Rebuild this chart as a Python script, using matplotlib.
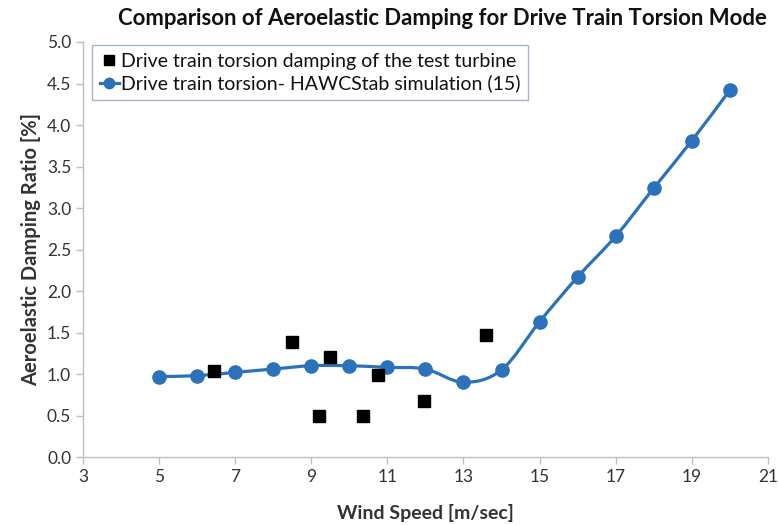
import matplotlib
matplotlib.use("Agg")
import matplotlib.pyplot as plt
from matplotlib.path import Path
from matplotlib.patches import PathPatch
from matplotlib.lines import Line2D
import numpy as np

plt.rcParams['font.family'] = ['Lato', 'DejaVu Sans']

# measured damping of the test turbine
meas_wind = [6.45, 8.5, 9.2, 9.5, 10.35, 10.75, 11.95, 13.6]
meas_damp = [1.04, 1.38, 0.50, 1.20, 0.50, 0.99, 0.67, 1.47]

# HAWCStab simulation
sim_wind = [5, 6, 7, 8, 9, 10, 11, 12, 13, 14, 15, 16, 17, 18, 19, 20]
sim_damp = [0.97, 0.98, 1.02, 1.06, 1.10, 1.10, 1.08, 1.06, 0.90, 1.05,
            1.63, 2.17, 2.66, 3.24, 3.81, 4.42]

blue = '#2B72BA'
grey = '#BFBFBF'
txt = '#333333'


def smooth_path(x, y, t=1 / 6):
    # excel style smoothed line: cubic bezier between the data points
    pts = np.column_stack([x, y]).astype(float)
    verts = [pts[0]]
    codes = [Path.MOVETO]
    n = len(pts)
    for i in range(n - 1):
        p0 = pts[i - 1] if i > 0 else pts[i]
        p1 = pts[i]
        p2 = pts[i + 1]
        p3 = pts[i + 2] if i + 2 < n else pts[i + 1]
        c1 = p1 + (p2 - p0) * t
        c2 = p2 - (p3 - p1) * t
        verts += [c1, c2, p2]
        codes += [Path.CURVE4] * 3
    return Path(verts, codes)


fig = plt.figure(figsize=(7.78, 5.25), dpi=100)
ax = fig.add_axes([0.1067, 0.1295, 0.8803, 0.7905])

ax.add_patch(PathPatch(smooth_path(sim_wind, sim_damp), facecolor='none',
                       edgecolor=blue, lw=2.3, zorder=2))
ax.plot(sim_wind, sim_damp, ls='none', marker='o', ms=9.5, color=blue, zorder=3)
ax.plot(meas_wind, meas_damp, ls='none', marker='s', ms=8, color='black', zorder=4)

ax.set_xlim(3, 21)
ax.set_ylim(0, 5)
ax.set_xticks(np.arange(3, 22, 2))
ax.set_yticks(np.arange(0, 5.01, 0.5))
ax.set_yticklabels([f"{v:.1f}" for v in np.arange(0, 5.01, 0.5)])

for s in ['top', 'right']:
    ax.spines[s].set_visible(False)
for s in ['left', 'bottom']:
    ax.spines[s].set_color(grey)
    ax.spines[s].set_linewidth(1)
ax.tick_params(colors=grey, labelcolor=txt, labelsize=12.5, length=5, width=1)

ax.set_xlabel('Wind Speed [m/sec]', fontsize=14, fontweight='bold', color=txt, labelpad=14)
ax.set_ylabel('Aeroelastic Damping Ratio [%]', fontsize=14.5, fontweight='bold', color=txt, labelpad=4)
fig.suptitle('Comparison of Aeroelastic Damping for Drive Train Torsion Mode',
             x=0.569, y=0.985, fontsize=15.9, fontweight='bold', color='#111111')

handles = [
    Line2D([], [], ls='none', marker='s', ms=7, color='black'),
    Line2D([], [], color=blue, lw=2.3, marker='o', ms=7.5),
]
labels = ['Drive train torsion damping of the test turbine',
          'Drive train torsion- HAWCStab simulation (15)']
leg = ax.legend(handles, labels, loc='upper left', bbox_to_anchor=(0.013, 0.993),
                fontsize=14.0, frameon=True, fancybox=False, handlelength=1.0,
                handletextpad=0.1, borderpad=0.4, labelspacing=0.25, borderaxespad=0)
leg.get_frame().set_edgecolor('#8EA0C8')
leg.get_frame().set_linewidth(1)
for t in leg.get_texts():
    t.set_color('#111111')

fig.savefig('out.png', dpi=100)
